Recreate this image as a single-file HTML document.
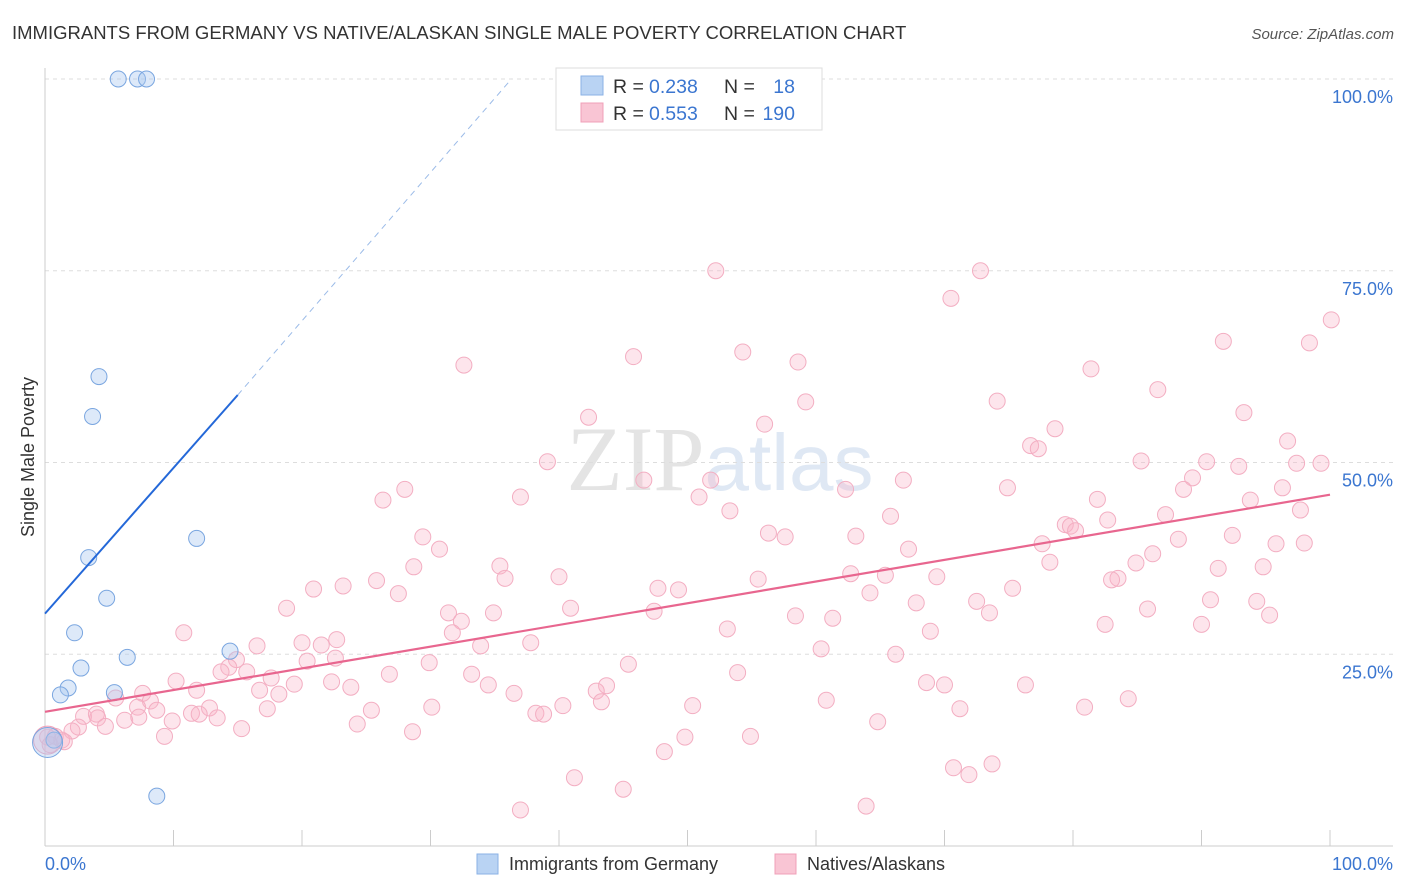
<!DOCTYPE html>
<html><head><meta charset="utf-8"><style>
body{margin:0;background:#fff;font-family:"Liberation Sans",sans-serif}
svg{display:block}
</style></head><body>
<svg id="chart" width="1406" height="892" xmlns="http://www.w3.org/2000/svg">
<text x="12" y="39" font-size="18.5" fill="#333">IMMIGRANTS FROM GERMANY VS NATIVE/ALASKAN SINGLE MALE POVERTY CORRELATION CHART</text>
<text x="1394" y="39" font-size="15" fill="#555" font-style="italic" text-anchor="end">Source: ZipAtlas.com</text>
<text x="720" y="490" font-size="92" fill="#e4e4e4" text-anchor="middle" font-family="Liberation Serif,serif">ZIP<tspan fill="#dfe8f4" font-family="Liberation Sans,sans-serif" font-size="80">atlas</tspan></text>
<text transform="translate(34,457) rotate(-90)" font-size="18" fill="#333" text-anchor="middle">Single Male Poverty</text>
<g id="grid"></g><g id="pts"></g><g id="lines"></g>
<g>
<rect x="556" y="68" width="266" height="62" fill="#fff" stroke="#ddd"/>
<rect x="581" y="76" width="22" height="19" fill="#b9d3f3" stroke="#8ab2e6"/>
<rect x="581" y="103" width="22" height="19" fill="#f9c5d4" stroke="#f0a0b8"/>
<text x="613" y="93" font-size="19.5" fill="#333">R =</text>
<text x="649" y="93" font-size="19.5" fill="#3b76d0">0.238</text>
<text x="724" y="93" font-size="19.5" fill="#333">N =</text>
<text x="795" y="93" font-size="19.5" fill="#3b76d0" text-anchor="end">18</text>
<text x="613" y="120" font-size="19.5" fill="#333">R =</text>
<text x="649" y="120" font-size="19.5" fill="#3b76d0">0.553</text>
<text x="724" y="120" font-size="19.5" fill="#333">N =</text>
<text x="795" y="120" font-size="19.5" fill="#3b76d0" text-anchor="end">190</text>
</g>
<g>
<rect x="477" y="854" width="21" height="20" fill="#b9d3f3" stroke="#8ab2e6"/>
<text x="509" y="870" font-size="18" fill="#333">Immigrants from Germany</text>
<rect x="775" y="854" width="21" height="20" fill="#f9c5d4" stroke="#f0a0b8"/>
<text x="807" y="870" font-size="18" fill="#333">Natives/Alaskans</text>
</g>
</svg>
<script>
const yTicks=[25,50,75,100];
const xTickLabels=["0.0%","100.0%"];
const bluePts=[[5.7,100],[7.2,100],[7.9,100],[4.2,61.2],[3.7,56.0],[3.4,37.6],[11.8,40.1],[4.8,32.3],[2.3,27.8],[6.4,24.6],[2.8,23.2],[14.4,25.4],[1.8,20.6],[1.2,19.7],[5.4,20.0],[0.7,13.8],[0.2,13.5],[8.7,6.5]];
const pinkRaw=[[716,271],[980,271],[951,298],[1331,320],[1223,341],[1310,343],[633,357],[743,352],[464,365],[798,362],[1091,369],[1158,390],[806,402],[997,401],[588,417],[765,424],[1244,413],[1055,429],[1288,441],[1030,446],[1038,449],[548,462],[1141,461],[1206,462],[1239,466],[1296,463],[1321,463],[644,480],[904,480],[1193,478],[710,480],[405,489],[383,500],[521,497],[845,489],[1007,488],[1184,489],[1282,488],[699,497],[1097,499],[1250,500],[730,511],[890,516],[1166,515],[1301,510],[1108,520],[1065,525],[1070,526],[1076,531],[768,533],[785,537],[423,537],[856,536],[1178,539],[1232,535],[1042,544],[440,549],[908,549],[1153,554],[1304,543],[1276,544],[414,567],[500,566],[1136,563],[1050,562],[1218,568],[1263,567],[377,581],[343,586],[505,578],[559,577],[758,579],[851,574],[886,575],[937,577],[1118,578],[1112,580],[313,589],[658,588],[678,590],[398,594],[976,601],[1012,588],[870,593],[286,608],[449,613],[493,613],[571,608],[654,611],[916,603],[1211,600],[1257,601],[1148,609],[989,613],[796,616],[833,618],[461,621],[452,633],[184,633],[1269,615],[727,629],[931,631],[1105,624],[1201,624],[302,643],[321,645],[337,640],[257,646],[531,643],[480,646],[821,649],[896,654],[335,658],[236,660],[229,667],[221,672],[247,672],[429,663],[628,664],[271,678],[307,661],[390,674],[472,674],[176,681],[294,684],[331,682],[351,687],[488,685],[737,673],[197,690],[260,690],[279,694],[606,686],[596,691],[926,683],[944,685],[1026,685],[143,693],[514,693],[116,698],[150,701],[826,700],[1128,699],[602,702],[138,707],[210,708],[267,709],[432,707],[563,706],[692,706],[1085,707],[960,709],[84,716],[97,714],[192,713],[157,710],[199,714],[372,710],[536,713],[543,714],[125,720],[98,718],[139,717],[172,721],[217,718],[106,726],[78,727],[72,731],[55,736],[62,740],[47,737],[50,745],[64,742],[242,729],[357,724],[412,732],[878,722],[165,736],[685,737],[750,736],[664,752],[953,768],[992,764],[969,775],[575,778],[623,789],[521,810],[866,806]];
const pinkPts=pinkRaw.map(p=>[+((p[0]-45)/12.85).toFixed(1),+((846-p[1])/7.67).toFixed(1)]);
const blueFit=[[0,30.3],[15,58.8]];
const blueExt=[[15,58.8],[36.3,100]];
const pinkFit=[[0,17.5],[100,45.8]];
const X=v=>45+v*12.85, Y=v=>846-v*7.67;
const NS="http://www.w3.org/2000/svg";
function mk(t,a,p){const e=document.createElementNS(NS,t);for(const k in a)e.setAttribute(k,a[k]);p.appendChild(e);return e;}
const g=document.getElementById('grid');
yTicks.forEach(v=>{
 const l=mk('line',{x1:45,x2:1393,y1:Y(v),y2:Y(v),stroke:'#ddd','stroke-dasharray':'4,4'},g);
 
 
 const t=mk('text',{x:1393,y:Y(v)+24,'font-size':18,fill:'#3b76d0','text-anchor':'end'},g);t.textContent=v.toFixed(1)+'%';
 
 
});
mk('line',{x1:45,x2:45,y1:68,y2:846,stroke:'#ccc'},g);
mk('line',{x1:45,x2:1393,y1:846,y2:846,stroke:'#ccc'},g);
for(let i=0;i<=10;i++){const tk=mk('line',{x1:X(i*10),x2:X(i*10),y1:830,y2:846,stroke:'#ccc'},g);
 
 }
[[0,xTickLabels[0],'start',45],[100,xTickLabels[1],'end',1393]].forEach(d=>{const t=mk('text',{x:d[3],y:870,'font-size':18,fill:'#3b76d0','text-anchor':d[2]},g);t.textContent=d[1];
 
 });
const P=document.getElementById('pts');
pinkPts.forEach(p=>{const c=mk('circle',{cx:X(p[0]),cy:Y(p[1]),r:8,fill:'rgba(248,180,200,0.35)',stroke:'#f3aec2','stroke-width':1},P);
 
 });
const c0=mk('circle',{cx:X(0.2),cy:Y(13.8),r:14,fill:'rgba(248,180,200,0.35)',stroke:'#f0a0b8'},P);


bluePts.forEach((p,i)=>{const c=mk('circle',{cx:X(p[0]),cy:Y(p[1]),r:i==16?15:8,fill:'rgba(170,200,240,0.4)',stroke:'#7aa6e0','stroke-width':1},P);
 
 });
const L=document.getElementById('lines');
const b=mk('line',{x1:X(blueFit[0][0]),y1:Y(blueFit[0][1]),x2:X(blueFit[1][0]),y2:Y(blueFit[1][1]),stroke:'#2468d8','stroke-width':2},L);


const be=mk('line',{x1:X(blueExt[0][0]),y1:Y(blueExt[0][1]),x2:X(blueExt[1][0]),y2:Y(blueExt[1][1]),stroke:'#9bbbe8','stroke-width':1,'stroke-dasharray':'6,5'},L);


const pl=mk('line',{x1:X(pinkFit[0][0]),y1:Y(pinkFit[0][1]),x2:X(pinkFit[1][0]),y2:Y(pinkFit[1][1]),stroke:'#e8668f','stroke-width':2.2},L);


</script>
</body></html>
